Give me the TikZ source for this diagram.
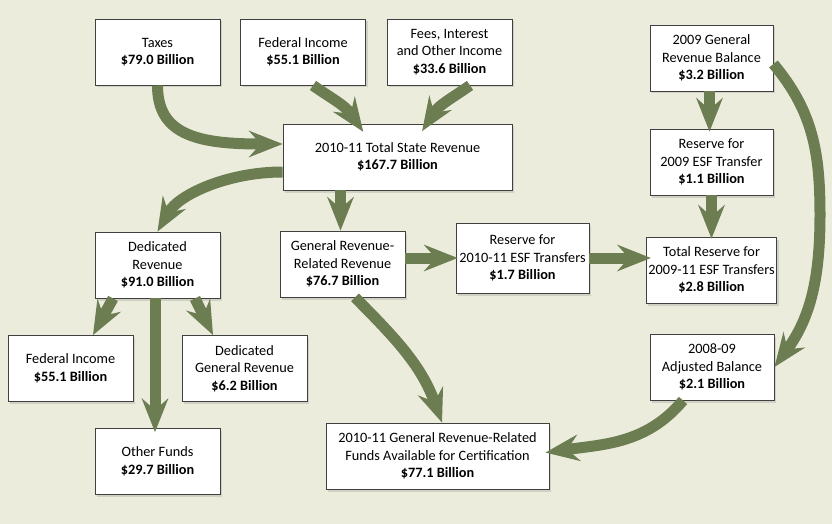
\documentclass[tikz,border=0pt]{standalone}
\usepackage{fontspec}
\setmainfont{Carlito}
\usetikzlibrary{arrows.meta,positioning,shadows}

\definecolor{bgcream}{RGB}{236,236,221}
\definecolor{flowgreen}{RGB}{107,125,81}

\begin{document}
\begin{tikzpicture}[x=1pt,y=1pt,
    revbox/.style={draw=black!75, line width=0.9pt, fill=white, align=center,
        minimum width=125pt, minimum height=66pt, inner sep=2pt,
        font=\fontsize{14.3}{17.5}\selectfont,
        drop shadow={shadow xshift=2pt,shadow yshift=-2.5pt,opacity=0.25}},
    flowarrow/.style={draw=flowgreen, line width=11pt,
        -{Stealth[length=34pt,width=27pt,inset=12pt,line width=0pt]}}]
    \fill[bgcream] (0,0) rectangle (832,-524);

    % income boxes on top
    \node[revbox] (taxes) at (157.5,-52) {Taxes\\\textbf{\$79.0 Billion}};
    \node[revbox] (fedin) at (303,-52) {Federal Income\\\textbf{\$55.1 Billion}};
    \node[revbox] (fees) at (449.5,-52) {Fees, Interest\\and Other Income\\\textbf{\$33.6 Billion}};
    \node[revbox, minimum width=229pt] (total) at (397.5,-157) {2010-11 Total State Revenue\\\textbf{\$167.7 Billion}};

    % balance and reserve column on the right
    \node[revbox, minimum width=123pt] (genbal) at (711.5,-58) {2009 General\\Revenue Balance\\\textbf{\$3.2 Billion}};
    \node[revbox, minimum width=123pt] (esf09) at (711.5,-162) {Reserve for\\2009 ESF Transfer\\\textbf{\$1.1 Billion}};
    \node[revbox, minimum width=123pt] (esftotal) at (711.5,-270) {Total Reserve for\\2009-11 ESF Transfers\\\textbf{\$2.8 Billion}};
    \node[revbox, minimum width=124pt] (adjbal) at (712,-367) {2008-09\\Adjusted Balance\\\textbf{\$2.1 Billion}};

    % split of the revenue
    \node[revbox] (dedrev) at (157.5,-265) {Dedicated\\Revenue\\\textbf{\$91.0 Billion}};
    \node[revbox] (grrev) at (342.5,-264) {General Revenue-\\Related Revenue\\\textbf{\$76.7 Billion}};
    \node[revbox, minimum width=133pt, minimum height=70pt] (esf1011) at (522.5,-258) {Reserve for\\2010-11 ESF Transfers\\\textbf{\$1.7 Billion}};
    \node[revbox] (fedlow) at (70.5,-368.5) {Federal Income\\\textbf{\$55.1 Billion}};
    \node[revbox] (dedgen) at (244.5,-368.5) {Dedicated\\General Revenue\\\textbf{\$6.2 Billion}};
    \node[revbox] (other) at (157.5,-461.5) {Other Funds\\\textbf{\$29.7 Billion}};
    \node[revbox, minimum width=223pt] (avail) at (437.5,-456) {2010-11 General Revenue-Related\\Funds Available for Certification\\\textbf{\$77.1 Billion}};

    \coordinate (rimturn) at (820,-215);

    % arrows into the total
    \draw[flowarrow] (taxes.south) to[out=-90,in=180,out looseness=0.9,in looseness=1.6] ([yshift=13pt]total.west);
    \draw[flowarrow, shorten >=-10pt] ([xshift=10pt]fedin.south) to[out=-35,in=125] ([xshift=-40pt]total.north);
    \draw[flowarrow, shorten >=-9pt] ([xshift=20.5pt]fees.south) to[out=-145,in=57] ([xshift=29.5pt]total.north);

    % arrows out of the total
    \draw[flowarrow] ([yshift=-15pt]total.west) to[out=180,in=60,in looseness=0.8] (dedrev.north);
    \draw[flowarrow] ([xshift=-57pt]total.south) -- ([xshift=-2pt]grrev.north);
    \draw[flowarrow] ([xshift=-44.5pt]dedrev.south) -- ([xshift=22.5pt]fedlow.north);
    \draw[flowarrow, shorten >=-4pt] ([xshift=-2.5pt]dedrev.south) -- ([xshift=-2.5pt]other.north);
    \draw[flowarrow] ([xshift=37.5pt]dedrev.south) -- ([xshift=-31.5pt]dedgen.north);
    \draw[flowarrow, shorten >=-2pt] (grrev.east |- esf1011.west) -- (esf1011.west);
    \draw[flowarrow, shorten >=-5pt] (esf1011.east) -- (esftotal.west |- esf1011.east);
    \draw[flowarrow] ([xshift=12.5pt]grrev.south) to[out=-45,in=110] ([xshift=4.5pt]avail.north);

    % right column
    \draw[flowarrow, shorten >=-3pt] ([xshift=-2pt]genbal.south) -- ([xshift=-2pt]esf09.north);
    \draw[flowarrow, shorten >=-2pt] (esf09.south) -- (esftotal.north);
    \draw[flowarrow] ([yshift=-6pt]genbal.east) to[out=-50,in=90] (rimturn) to[out=-90,in=54] (adjbal.east);
    \draw[flowarrow, shorten >=-4pt] ([xshift=-29pt]adjbal.south) to[out=-130,in=8] ([yshift=4pt]avail.east);
\end{tikzpicture}
\end{document}
